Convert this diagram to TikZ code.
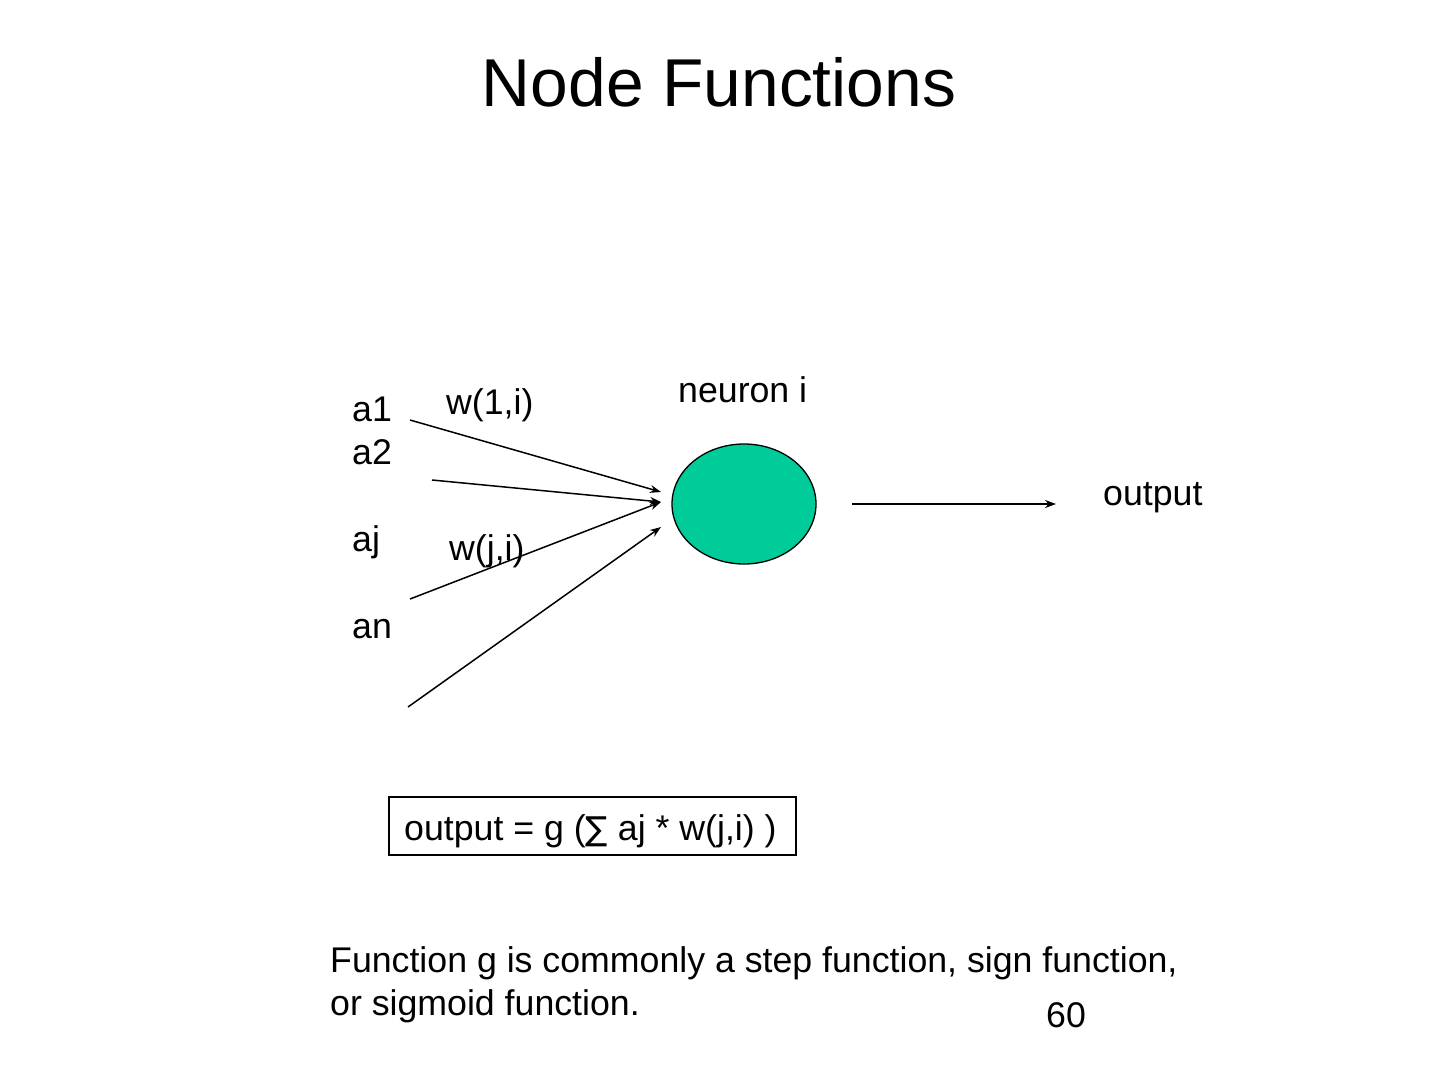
\documentclass[tikz,border=0pt]{standalone}
\usepackage{fontspec}
\setmainfont{Liberation Sans}
\newfontfamily\symfont{DejaVu Sans}
\usetikzlibrary{arrows.meta,shapes.geometric}
\begin{document}
\begin{tikzpicture}[x=1pt,y=-1pt,
  lbl/.style={anchor=base west,inner sep=0pt,font=\fontsize{35.7}{40}\selectfont},
  conn/.style={line width=1.5pt,-{Stealth[length=11pt,width=8pt]}},
  neuron/.style={ellipse,draw,line width=1.3pt,fill={rgb,255:red,0;green,204;blue,153},minimum width=144pt,minimum height=120pt,inner sep=0pt}]
\useasboundingbox (0,0) rectangle (1440,1080);
\node[anchor=base,inner sep=0pt,font=\fontsize{67.7}{72}\selectfont] (title) at (719,106) {Node Functions};
\node[lbl] (a1) at (352,421) {a1};
\node[lbl] (a2) at (352,464) {a2};
\node[lbl] (aj) at (352,551) {aj};
\node[lbl] (an) at (352,638) {an};
\node[lbl] (w1) at (446,414) {w(1,i)};
\node[lbl] (wj) at (449,560) {w(j,i)};
\node[lbl] (ni) at (678,402) {neuron i};
\node[lbl] (out) at (1103,505) {output};
\node[draw,line width=1.3pt,minimum width=407pt,minimum height=58pt,inner sep=0pt] (box) at (592.5,826) {};
\node[lbl] (formula) at (404,840) {output = g ({\symfont\fontsize{33}{40}\selectfont ∑} aj * w(j,i) )};
\node[lbl] (f1) at (330,972) {Function g is commonly a step function, sign function,};
\node[lbl] (f2) at (330,1015) {or sigmoid function.};
\node[lbl] (pg) at (1046,1027) {60};
\node[neuron] (n) at (744,504) {};
\coordinate (s1) at (410,420);
\coordinate (s2) at (432,480);
\coordinate (sj) at (410,599);
\coordinate (sn) at (408,707);
\coordinate (e1) at (661,492);
\coordinate (e2) at (661,502);
\coordinate (ej) at (661,502);
\coordinate (en) at (661,527);
\coordinate (os) at (852,504);
\coordinate (oe) at (1056,504);
\draw[conn] (s1) -- (e1);
\draw[conn] (s2) -- (e2);
\draw[conn] (sj) -- (ej);
\draw[conn] (sn) -- (en);
\draw[conn] (os) -- (oe);
\end{tikzpicture}
\end{document}
